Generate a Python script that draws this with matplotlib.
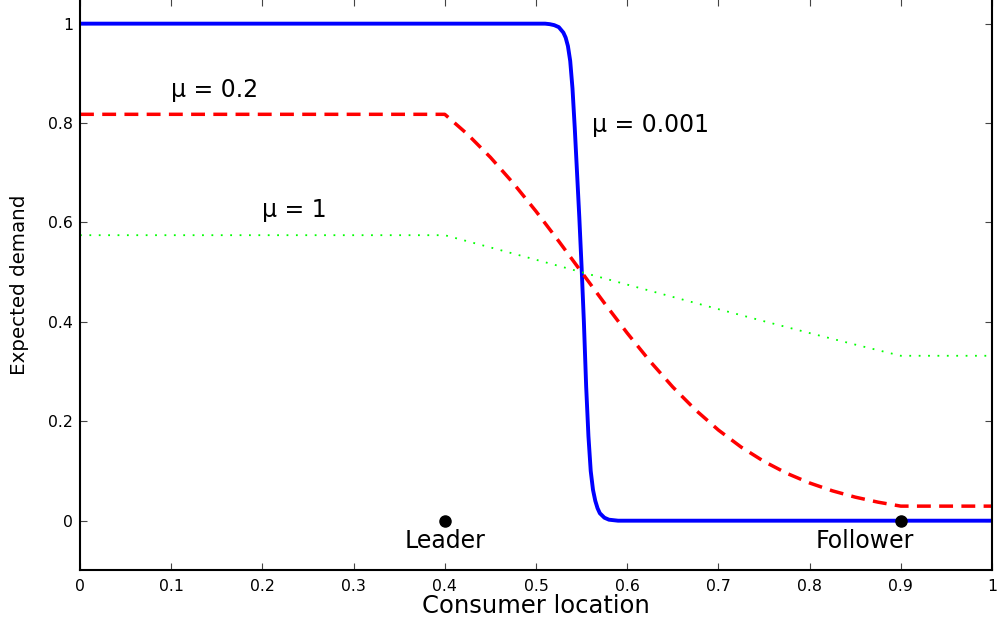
import matplotlib
matplotlib.use("Agg")
import matplotlib.pyplot as plt

# ---- data ----
x_mu001 = [0, 0.5, 0.51, 0.515, 0.52, 0.525, 0.53, 0.5325, 0.535, 0.5375, 0.54, 0.5425,
           0.545, 0.5475, 0.55, 0.5525, 0.555, 0.5575, 0.56, 0.5625, 0.565, 0.5675,
           0.57, 0.575, 0.58, 0.59, 1.0]
y_mu001 = [1, 1, 1.0, 0.999, 0.997, 0.993, 0.982, 0.972, 0.955, 0.925, 0.87, 0.79,
           0.70, 0.61, 0.51, 0.40, 0.27, 0.17, 0.10, 0.062, 0.040, 0.025,
           0.015, 0.006, 0.002, 0, 0]

x_mu02 = [0, 0.4, 0.425, 0.45, 0.475, 0.5, 0.525, 0.55, 0.575, 0.6, 0.625, 0.65,
          0.675, 0.7, 0.725, 0.75, 0.775, 0.8, 0.825, 0.85, 0.875, 0.9, 1.0]
y_mu02 = [0.8176, 0.8176, 0.7773, 0.7311, 0.6792, 0.6225, 0.5622, 0.5, 0.4378, 0.3775,
          0.3208, 0.2689, 0.2227, 0.1824, 0.1480, 0.1192, 0.0953, 0.0759, 0.0601,
          0.0474, 0.0373, 0.0293, 0.0293]

x_mu1 = [0, 0.4, 0.45, 0.5, 0.55, 0.6, 0.65, 0.7, 0.75, 0.8, 0.85, 0.9, 1.0]
y_mu1 = [0.5744, 0.5744, 0.5498, 0.5250, 0.5, 0.4750, 0.4502, 0.4256, 0.4013,
         0.3775, 0.3543, 0.3318, 0.3318]

firm_x = [0.4, 0.9]
firm_y = [0, 0]
firm_names = ["Leader", "Follower"]

x_ticks = [0, 0.1, 0.2, 0.3, 0.4, 0.5, 0.6, 0.7, 0.8, 0.9, 1]
x_ticklabels = ["0", "0.1", "0.2", "0.3", "0.4", "0.5", "0.6", "0.7", "0.8", "0.9", "1"]
y_ticks = [0, 0.2, 0.4, 0.6, 0.8, 1]
y_ticklabels = ["0", "0.2", "0.4", "0.6", "0.8", "1"]

# ---- figure ----
fig = plt.figure(figsize=(9.97, 6.22), dpi=100)
ax = fig.add_axes([80 / 997, (622 - 570.4) / 622, 912 / 997, (570.4 + 1.2) / 622])

ax.plot(x_mu001, y_mu001, color=(0, 0, 1), lw=2.8, solid_joinstyle="round")
ax.plot(x_mu02, y_mu02, color=(1, 0, 0), lw=2.5, linestyle=(0, (4.0, 2.4)))
ax.plot(x_mu1, y_mu1, color=(0, 1, 0), lw=1.3, linestyle=(0, (1.0, 4.2)))
ax.plot(firm_x, firm_y, "o", color="black", ms=8, zorder=5)

ax.set_xlim(0, 1)
ax.set_ylim(-0.1, 1.05)
ax.set_xticks(x_ticks)
ax.set_xticklabels(x_ticklabels)
ax.set_yticks(y_ticks)
ax.set_yticklabels(y_ticklabels)
ax.tick_params(direction="in", length=5, width=0.8, top=True, right=True,
               labelsize=11.3, color="#444444")
ax.tick_params(axis="x", pad=6.5)
ax.tick_params(axis="y", pad=5)
for s in ax.spines.values():
    s.set_linewidth(1.5)

ax.set_xlabel("Consumer location", fontsize=17.5, labelpad=0)
ax.set_ylabel("Expected demand", fontsize=14.3, labelpad=14)

ax.text(0.4, -0.0555, firm_names[0], fontsize=17, ha="center", va="baseline")
ax.text(0.86, -0.0555, firm_names[1], fontsize=17, ha="center", va="baseline")
ax.text(0.1, 0.853, "\u03bc = 0.2", fontsize=17, ha="left", va="baseline")
ax.text(0.2, 0.612, "\u03bc = 1", fontsize=17, ha="left", va="baseline")
ax.text(0.561, 0.783, "\u03bc = 0.001", fontsize=17, ha="left", va="baseline")

fig.savefig("out.png", dpi=100)
